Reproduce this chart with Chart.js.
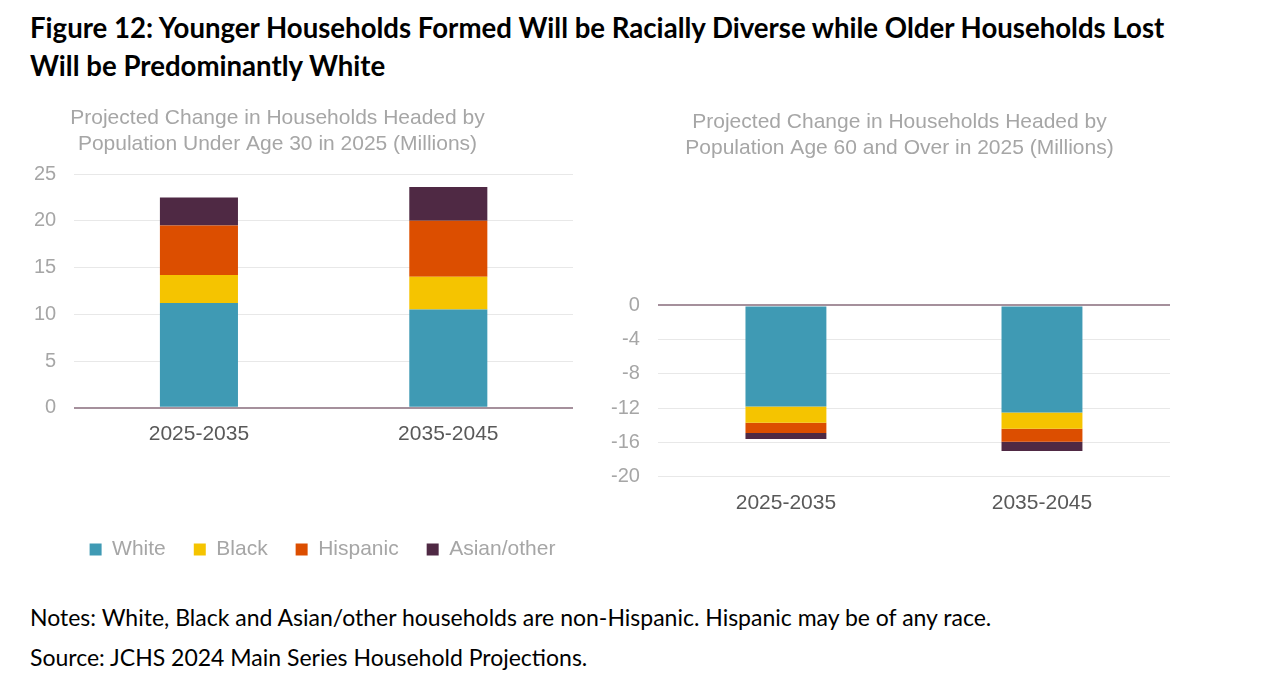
<!DOCTYPE html>
<html>
<head>
<meta charset="utf-8">
<script src="https://cdn.jsdelivr.net/npm/chart.js@4.4.1/dist/chart.umd.min.js"></script>
<style>
  body { margin: 0; background: #fff; width: 1280px; height: 678px; position: relative; overflow: hidden; }
  .title { position: absolute; left: 30px; top: 9px; font-family: Lato, sans-serif; font-weight: 700; font-size: 27.6px; line-height: 38px; color: #000; white-space: nowrap; }
  .notes { position: absolute; left: 30px; top: 597px; font-family: Lato, sans-serif; font-size: 23px; line-height: 40px; color: #000; white-space: nowrap; }
  #young { position: absolute; left: 0px; top: 95px; }
  #old { position: absolute; left: 580px; top: 100px; }
</style>
</head>
<body>
<div class="title">Figure 12: Younger Households Formed Will be Racially Diverse while Older Households Lost<br>Will be Predominantly White</div>
<canvas id="young" width="600" height="480"></canvas>
<canvas id="old" width="620" height="433"></canvas>
<div class="notes">Notes: White, Black and Asian/other households are non-Hispanic. Hispanic may be of any race.<br>Source: JCHS 2024 Main Series Household Projections.</div>
<script>
const periods = ['2025-2035', '2035-2045'];
const races = ['White', 'Black', 'Hispanic', 'Asian/other'];
const raceColors = ['#3f9ab4', '#f5c400', '#dc4e00', '#4f2944'];

// under age 30, millions
const youngWhite = [11.2, 10.5];
const youngBlack = [3.0, 3.5];
const youngHispanic = [5.3, 6.0];
const youngAsian = [3.0, 3.6];

// age 60 and over, millions
const oldWhite = [-11.8, -12.5];
const oldBlack = [-1.9, -1.9];
const oldHispanic = [-1.2, -1.5];
const oldAsian = [-0.7, -1.1];

const youngTitle = ['Projected Change in Households Headed by', 'Population Under Age 30 in 2025 (Millions)'];
const oldTitle = ['Projected Change in Households Headed by', 'Population Age 60 and Over in 2025 (Millions)'];

const fontFam = "'Liberation Sans', Arial, sans-serif";
const grey = '#a6a6a6';

function makeSets(series, pct) {
  return series.map((vals, i) => ({
    label: races[i],
    data: vals,
    backgroundColor: raceColors[i],
    borderWidth: 0,
    categoryPercentage: 1,
    barPercentage: pct
  }));
}

function gridColor(ctx) {
  return ctx.tick && ctx.tick.value === 0 ? '#a5909c' : '#e8e8e8';
}
function gridWidth(ctx) {
  return ctx.tick && ctx.tick.value === 0 ? 2 : 1;
}

// move title / legend sideways, the original centres them on the whole chart box
function boxShift(titleDx, legendDx) {
  return {
    id: 'boxShift',
    afterLayout(chart) {
      if (chart.titleBlock) {
        chart.titleBlock.left += titleDx;
        chart.titleBlock.right += titleDx;
      }
      if (chart.legend && chart.options.plugins.legend.display) {
        chart.legend.left += legendDx;
        chart.legend.right += legendDx;
      }
    }
  };
}

new Chart(document.getElementById('young'), {
  type: 'bar',
  data: {
    labels: periods,
    datasets: makeSets([youngWhite, youngBlack, youngHispanic, youngAsian], 0.313)
  },
  options: {
    responsive: false,
    animation: false,
    layout: { padding: { left: 16, right: 27, top: 0, bottom: 5 } },
    plugins: {
      title: {
        display: true,
        text: youngTitle,
        color: grey,
        font: { family: fontFam, size: 21, weight: 'normal', lineHeight: 1.2 },
        padding: { top: 11, bottom: 17.6 }
      },
      legend: {
        display: true,
        position: 'bottom',
        labels: {
          color: grey,
          boxWidth: 12,
          boxHeight: 12,
          padding: 28,
          font: { family: fontFam, size: 21 }
        }
      },
      tooltip: { enabled: false }
    },
    scales: {
      x: {
        stacked: true,
        grid: { display: false, drawTicks: false },
        border: { display: false },
        ticks: { color: '#595959', padding: 14, font: { family: fontFam, size: 21 } },
        afterFit(scale) { scale.height += 50; }
      },
      y: {
        stacked: true,
        min: 0,
        max: 25,
        ticks: { stepSize: 5, color: grey, padding: 18, font: { family: fontFam, size: 20 } },
        grid: { color: gridColor, lineWidth: gridWidth, drawTicks: false },
        border: { display: false }
      }
    }
  },
  plugins: [boxShift(-17, 28)]
});

new Chart(document.getElementById('old'), {
  type: 'bar',
  data: {
    labels: periods,
    datasets: makeSets([oldWhite, oldBlack, oldHispanic, oldAsian], 0.316)
  },
  options: {
    responsive: false,
    animation: false,
    layout: { padding: { left: 13, right: 30, top: 0, bottom: 5 } },
    plugins: {
      title: {
        display: true,
        text: oldTitle,
        color: grey,
        font: { family: fontFam, size: 21, weight: 'normal', lineHeight: 1.2 },
        padding: { top: 10, bottom: 145 }
      },
      legend: { display: false },
      tooltip: { enabled: false }
    },
    scales: {
      x: {
        stacked: true,
        grid: { display: false, drawTicks: false },
        border: { display: false },
        ticks: { color: '#595959', padding: 14, font: { family: fontFam, size: 21 } },
        afterFit(scale) { scale.height -= 2; }
      },
      y: {
        stacked: true,
        min: -20,
        max: 0,
        ticks: { stepSize: 4, color: grey, padding: 18, font: { family: fontFam, size: 20 } },
        grid: { color: gridColor, lineWidth: gridWidth, drawTicks: false },
        border: { display: false }
      }
    }
  },
  plugins: [boxShift(18, 0)]
});
</script>
</body>
</html>
